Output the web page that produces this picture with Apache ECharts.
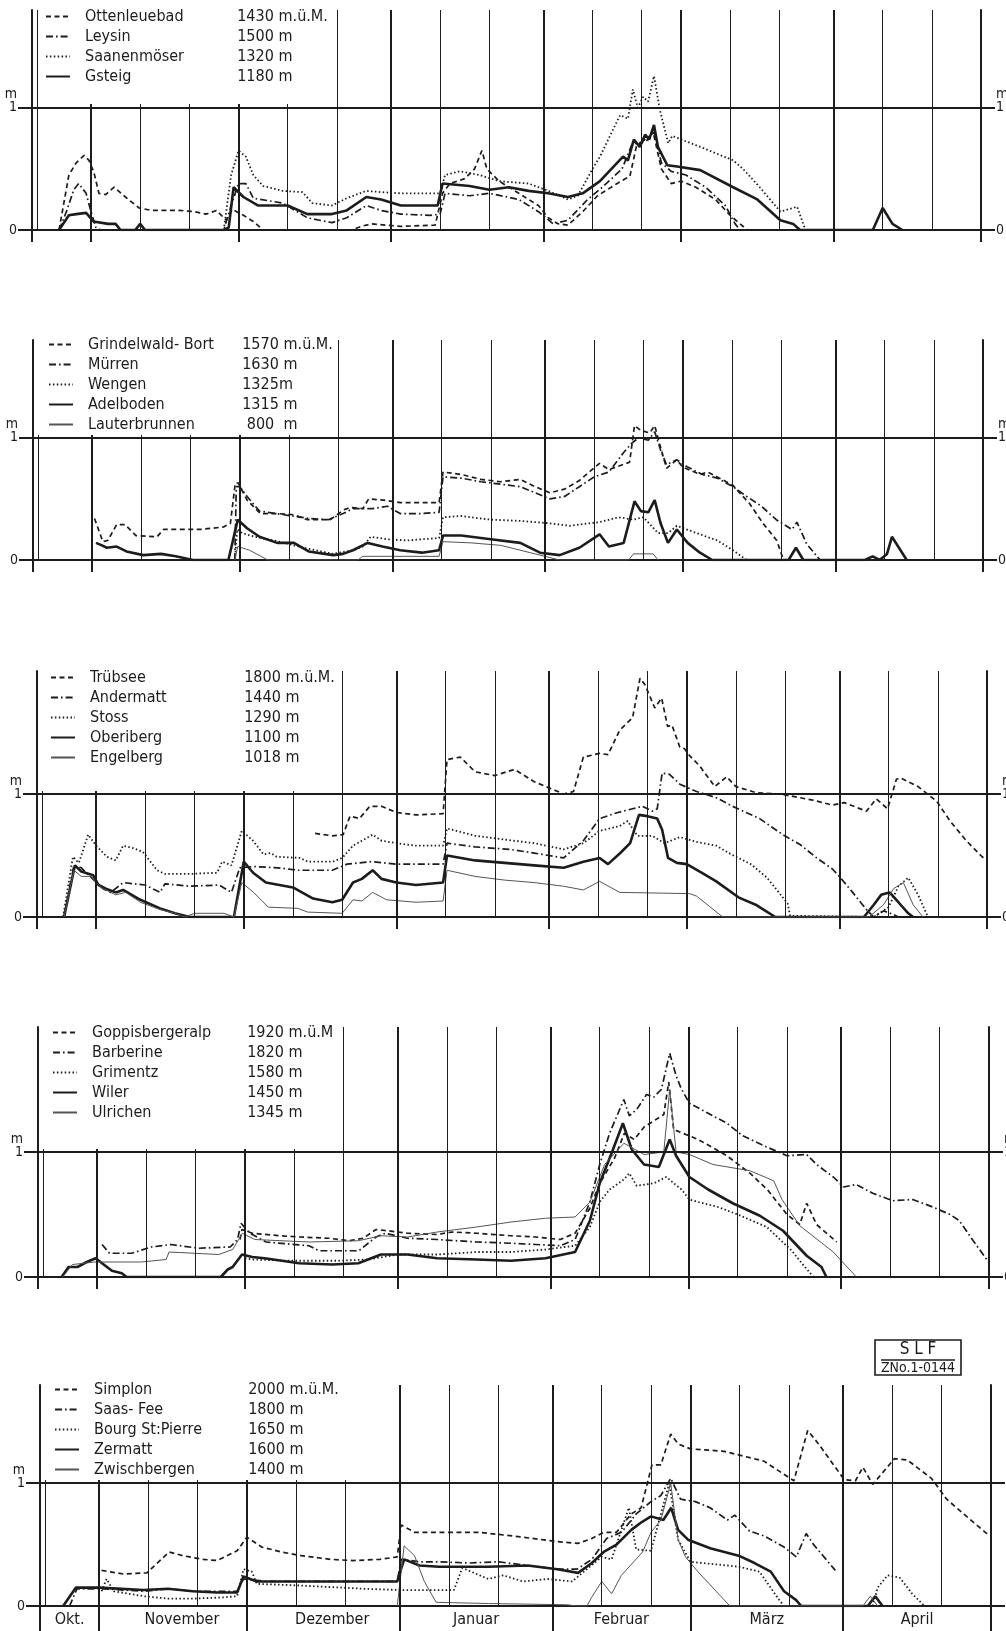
<!DOCTYPE html>
<html><head><meta charset="utf-8">
<script src="https://cdn.jsdelivr.net/npm/echarts@6/dist/echarts.min.js"></script>
<style>html,body{margin:0;padding:0;background:#fff}#c{width:1006px;height:1631px}</style>
</head><body><div id="c"></div>
<script>
// ---------- axis data (x = days since 1 October) ----------
const xMin = 19, xMax = 212;
const monthStarts = [31, 61, 92, 123, 151, 182];
const decadeLines = [20, 41, 51, 71, 81, 102, 112, 133, 143, 161, 171, 192, 202];
const monthNames = ['Okt.', 'November', 'Dezember', 'Januar', 'Februar', 'März', 'April'];

// ---------- Panel 1 ----------
const ottenleuebad = [[24.5,0],[26.5,0.45],[28,0.55],[29.6,0.61],[30.6,0.57],[31.6,0.47],[32.6,0.3],[34,0.29],[35.7,0.35],[38,0.27],[40.8,0.18],[43.4,0.16],[49,0.16],[52,0.15],[54.4,0.13],[56.5,0.16],[58.5,0.08],[59.7,0.17],[62,0.12],[64,0.07],[66,0],[84,0],[86,0.03],[88,0.05],[94,0.03],[101,0.04],[102.5,0.3],[104,0.38],[107,0.42],[109,0.5],[110.5,0.65],[111.5,0.5],[114,0.4],[118,0.3],[122,0.2],[124,0.1],[126,0.05],[128,0.04],[131,0.15],[134,0.28],[138,0.38],[140.6,0.44],[142,0.7],[143.5,0.72],[145.5,0.77],[147,0.5],[149,0.38],[151,0.4],[154,0.35],[158,0.25],[161,0.12],[163,0.05],[164.5,0]];
const leysin = [[24.5,0],[26,0.15],[27.5,0.33],[28.5,0.38],[30,0.3],[31,0.15],[32,0.02],[33,0],[58,0],[59.5,0.2],[61,0.38],[62.5,0.38],[64,0.26],[70,0.22],[75,0.1],[80,0.06],[83,0.1],[87,0.2],[90,0.16],[94,0.13],[100,0.12],[102,0.13],[103,0.3],[108,0.28],[112,0.3],[118,0.25],[122,0.15],[125,0.05],[128,0.08],[132,0.25],[135,0.35],[139,0.5],[141,0.7],[143,0.72],[145.5,0.8],[147,0.55],[149,0.48],[152,0.45],[156,0.35],[160,0.2],[162,0.05],[163,0]];
const saanenmoeser = [[58,0],[59.5,0.45],[61,0.65],[62.5,0.6],[64,0.45],[66,0.36],[70,0.32],[74,0.31],[76,0.22],[80,0.2],[83,0.26],[87,0.32],[90,0.31],[94,0.3],[100,0.3],[102,0.3],[103,0.45],[106,0.48],[110,0.45],[114,0.4],[120,0.38],[124,0.32],[128,0.25],[130,0.28],[133,0.5],[134.5,0.6],[138.6,0.94],[140.2,0.91],[141.2,1.15],[142.2,1.0],[143.3,1.09],[144.3,1.05],[145.5,1.26],[146.7,0.98],[148.4,0.71],[149.2,0.77],[154.9,0.68],[161.6,0.57],[163.6,0.5],[167,0.35],[171.2,0.15],[174.6,0.19],[176.3,0]];
const gsteig = [[24.5,0],[26.5,0.12],[28,0.13],[30,0.14],[31.5,0.07],[34.5,0.05],[36,0.05],[37,0],[40,0],[41,0.05],[42,0],[58,0],[59,0.02],[60,0.35],[62,0.27],[65,0.2],[71,0.2],[75,0.13],[80,0.13],[83,0.16],[87,0.27],[90,0.25],[94,0.2],[101.5,0.2],[102.5,0.38],[108,0.36],[112,0.33],[116,0.35],[120,0.32],[124,0.3],[128,0.27],[131,0.3],[134.5,0.4],[139.2,0.6],[140.2,0.57],[141.4,0.74],[142.6,0.68],[143.7,0.78],[144.5,0.74],[145.5,0.86],[146.3,0.68],[148.2,0.53],[150.2,0.52],[154.9,0.49],[161.6,0.35],[166.5,0.25],[171.2,0.08],[173.8,0.05],[175.2,0],[190,0],[192,0.18],[194,0.05],[196,0]];

// ---------- Panel 2 ----------
const grindelwald = [[31.5,0.34],[33.2,0.15],[34.2,0.16],[36,0.29],[37.7,0.29],[39.9,0.2],[44.2,0.19],[45.5,0.25],[53,0.25],[57.7,0.27],[59.1,0.3],[60.1,0.63],[60.7,0.63],[62.5,0.49],[65.2,0.38],[68.6,0.38],[72,0.37],[74.7,0.33],[79.4,0.33],[82.1,0.41],[83.5,0.43],[86,0.42],[87.2,0.5],[90.2,0.49],[93.6,0.47],[98,0.47],[101.5,0.47],[102.3,0.72],[106,0.7],[110,0.66],[114,0.64],[118,0.66],[121,0.6],[124,0.55],[127,0.58],[130,0.65],[132,0.72],[134.1,0.79],[136,0.74],[140.2,0.8],[141.2,1.1],[142.5,1.06],[144.3,1.04],[145.3,1.1],[146.3,0.95],[147.7,0.75],[149.8,0.82],[151,0.76],[154.5,0.7],[156,0.72],[158,0.68],[161.2,0.61],[164.6,0.46],[167.3,0.3],[170.1,0.16],[171.3,0.02],[172,0]];
const muerren = [[60,0],[60.3,0.6],[61,0.6],[62.5,0.52],[65,0.4],[70,0.37],[75,0.34],[79,0.33],[82,0.38],[84,0.42],[88,0.42],[91,0.44],[93.6,0.38],[98,0.38],[101.5,0.39],[102.3,0.68],[106,0.67],[110,0.64],[114,0.62],[118,0.6],[121,0.55],[124,0.5],[127,0.52],[130,0.6],[133,0.68],[136,0.72],[139,0.88],[140.5,0.95],[142,1.0],[144,0.98],[145.3,1.05],[146.5,0.9],[147.7,0.78],[149.8,0.82],[152,0.76],[155,0.7],[158,0.67],[161.2,0.6],[164,0.52],[167,0.44],[170,0.33],[173.2,0.25],[174.2,0.31],[176.2,0.13],[178.9,0]];
const wengen = [[60,0],[60.5,0.25],[61.5,0.22],[64,0.19],[68,0.16],[74,0.1],[80,0.05],[84,0.08],[86,0.11],[87.6,0.19],[91,0.17],[95,0.16],[101.5,0.18],[102.3,0.35],[106,0.36],[112,0.33],[118,0.32],[124,0.3],[128,0.28],[132,0.3],[134.1,0.31],[138,0.35],[141,0.33],[143,0.35],[146,0.22],[148,0.22],[149.8,0.28],[154.5,0.21],[158,0.16],[161.2,0.08],[164,0]];
const adelboden = [[31.8,0.14],[33,0.12],[34,0.1],[36,0.11],[38,0.07],[41.4,0.04],[45,0.05],[48,0.03],[51.5,0],[58.7,0],[60.6,0.33],[62.5,0.26],[65,0.19],[68.6,0.14],[72,0.14],[75,0.07],[80,0.04],[82,0.05],[84,0.08],[87,0.14],[90,0.11],[93.6,0.08],[98,0.06],[101.5,0.08],[102.3,0.2],[106,0.2],[112,0.17],[118,0.14],[122,0.06],[126,0.04],[130,0.1],[134.1,0.21],[136,0.11],[139,0.14],[141.2,0.48],[142.5,0.4],[144,0.39],[145.3,0.49],[146.5,0.3],[148,0.14],[149.8,0.25],[152,0.14],[154.5,0.06],[157,0],[172.5,0],[174,0.1],[175.5,0],[188,0],[189.6,0.03],[191,0],[192.5,0.05],[193.5,0.19],[196.5,0]];
const lauterbrunnen = [[60,0],[60.6,0.11],[63,0.08],[66.7,0],[85,0],[86,0.03],[101.5,0.03],[102.3,0.15],[108,0.14],[114,0.12],[120,0.06],[124,0.02],[126,0],[140,0],[141,0.05],[145,0.05],[146,0]];

// ---------- Panel 3 ----------
const truebsee = [[75.5,0.68],[79,0.66],[81.2,0.67],[82.6,0.82],[84.5,0.8],[86.6,0.9],[89,0.9],[92,0.85],[96,0.83],[101.5,0.84],[102.3,1.28],[105,1.3],[108,1.18],[112,1.15],[116,1.2],[120,1.1],[123,1.05],[126,1.0],[128,1.02],[130,1.3],[133.3,1.33],[135,1.32],[137.4,1.52],[140,1.62],[141.5,1.94],[142.5,1.89],[144.5,1.7],[145.9,1.78],[147.1,1.55],[148,1.56],[149.6,1.38],[150.5,1.37],[151.6,1.31],[153.6,1.23],[156.7,1.06],[159.1,1.14],[161,1.06],[165.2,1.01],[170,1.0],[176.6,0.95],[180.6,0.91],[183,0.93],[187.5,0.86],[189.5,0.96],[191.8,0.88],[193.6,1.12],[194.5,1.13],[198,1.06],[201.8,0.94],[204.5,0.78],[207.8,0.62],[211,0.49],[212,0.46]];
const andermatt = [[24.5,0],[26.5,0.42],[28,0.4],[29.5,0.34],[32.4,0.23],[34,0.2],[36.5,0.28],[41,0.26],[44,0.2],[45,0.27],[50,0.25],[56,0.26],[58.5,0.2],[60.2,0.4],[63,0.41],[68,0.4],[72,0.38],[79,0.38],[82,0.43],[87,0.45],[92,0.43],[101.5,0.43],[102.3,0.6],[108,0.57],[115,0.55],[120,0.52],[126,0.48],[130,0.62],[133.3,0.8],[137,0.85],[140,0.88],[142,0.9],[144,0.86],[145,0.88],[146,1.17],[147.5,1.16],[149.6,1.08],[153,1.02],[157,0.97],[160.3,0.9],[165.8,0.8],[170.5,0.67],[174,0.59],[177.4,0.48],[180.6,0.39],[182,0.33],[184.7,0.2],[187.5,0.06],[189,0],[191,0.05],[193,0.02],[194,0]];
const stoss = [[24.3,0],[26.3,0.49],[27.5,0.44],[29.4,0.67],[31,0.58],[33.2,0.49],[35,0.46],[36.5,0.58],[38.5,0.56],[40.5,0.53],[43.4,0.38],[45,0.35],[50,0.35],[55.6,0.36],[56.6,0.45],[58.5,0.42],[60.6,0.7],[62.9,0.62],[65,0.51],[66.5,0.52],[67.7,0.49],[72.4,0.48],[74,0.45],[79.1,0.45],[81,0.48],[83.2,0.58],[85,0.62],[87.2,0.67],[89,0.62],[92,0.6],[96,0.58],[101.5,0.58],[102.3,0.72],[108,0.66],[114,0.63],[120,0.6],[126,0.55],[130,0.6],[133.3,0.7],[137.4,0.74],[139,0.78],[141,0.66],[144,0.66],[146.5,0.6],[149.6,0.65],[153,0.61],[157,0.58],[160,0.51],[164,0.43],[167.3,0.32],[169.9,0.19],[171.5,0.11],[172,0.01],[189,0],[192,0.08],[194,0.25],[196,0.32],[198,0.18],[200,0]];
const oberiberg = [[24.5,0],[26.7,0.42],[28,0.37],[30.4,0.34],[31.5,0.26],[33,0.23],[35,0.2],[36.5,0.22],[40,0.14],[44,0.07],[47,0.03],[50,0],[59,0],[61,0.45],[62.9,0.36],[65.5,0.28],[71,0.24],[75.1,0.15],[79,0.12],[81,0.14],[83.2,0.28],[85,0.31],[87.2,0.38],[89,0.31],[92,0.28],[96,0.26],[101.5,0.28],[102.3,0.5],[108,0.46],[114,0.44],[120,0.42],[126,0.4],[130,0.45],[133.3,0.48],[135,0.43],[137.5,0.52],[139.5,0.6],[141.3,0.83],[143,0.82],[145,0.8],[146,0.71],[147.2,0.48],[149,0.44],[151,0.43],[154,0.36],[157,0.29],[161.5,0.16],[165,0.1],[167,0.05],[169,0],[187,0],[189,0.1],[190.5,0.18],[192.2,0.2],[194,0.12],[196,0.03],[197,0]];
const engelberg = [[24.5,0],[26.5,0.38],[28,0.33],[30,0.33],[32,0.24],[35,0.18],[37,0.2],[40,0.12],[44,0.06],[47,0.03],[49,0],[51,0.03],[57,0.03],[59,0],[60.6,0.28],[63,0.2],[66,0.08],[72,0.07],[74,0.04],[81,0.03],[83.2,0.14],[85,0.13],[87.2,0.2],[90,0.14],[96,0.12],[101.5,0.13],[102.3,0.38],[108,0.33],[114,0.3],[120,0.28],[126,0.25],[130,0.22],[133.3,0.29],[137.4,0.2],[151.6,0.19],[153,0.17],[158.3,0],[188,0],[191,0.1],[193,0.23],[195,0.28],[197,0.1],[199,0]];

// ---------- Panel 4 ----------
const goppisbergeralp = [[60,0.3],[60.4,0.38],[62.5,0.35],[68,0.33],[72,0.32],[78,0.31],[82.2,0.29],[85,0.31],[87.6,0.38],[90,0.37],[94,0.35],[100,0.34],[103,0.36],[108,0.35],[115,0.33],[120,0.32],[125,0.3],[128,0.35],[131,0.55],[133,0.75],[136,0.95],[138,1.15],[140,1.1],[142,1.2],[144,1.25],[146,1.3],[147,1.56],[148,1.18],[153,1.1],[158.8,0.97],[163.5,0.83],[167,0.7],[171,0.5],[173.6,0.42],[175,0.59],[177,0.42],[181.1,0.28]];
const barberine = [[32,0.26],[33.5,0.19],[38,0.19],[42,0.24],[46,0.26],[51.6,0.23],[58,0.24],[59.5,0.3],[60.2,0.43],[62,0.35],[65.3,0.28],[74,0.25],[76,0.21],[84.1,0.21],[87.6,0.32],[89.5,0.35],[94,0.31],[100,0.3],[108,0.28],[115,0.27],[120,0.26],[125,0.25],[128,0.3],[131,0.6],[133,0.9],[135,1.15],[137.9,1.42],[139,1.29],[140.5,1.34],[142.5,1.46],[144,1.44],[145.5,1.5],[147.2,1.79],[148.5,1.61],[149.5,1.51],[151.2,1.39],[155,1.31],[158.8,1.23],[162,1.13],[166.9,1.04],[171,0.97],[175,0.98],[177,0.9],[180.4,0.8],[182.5,0.72],[185,0.74],[188.4,0.67],[192.5,0.61],[196.5,0.62],[200.6,0.56],[204.1,0.5],[206,0.45],[208.8,0.29],[211.9,0.12]];
const grimentz = [[61,0.15],[62.5,0.14],[70,0.13],[80,0.13],[86,0.14],[92,0.18],[100,0.18],[108,0.2],[115,0.2],[122,0.22],[128,0.25],[131,0.4],[133,0.6],[135,0.7],[137.9,0.78],[139,0.83],[140.5,0.73],[144,0.75],[146.5,0.8],[149.6,0.7],[151.2,0.62],[153,0.6],[157,0.56],[161,0.5],[166.9,0.4],[172,0.21],[174,0.11],[176.4,0]];
const wiler = [[23.8,0],[25.2,0.08],[27,0.08],[28.9,0.12],[30.7,0.15],[32,0.11],[34,0.05],[36,0.03],[37,0],[56.1,0],[57.5,0.06],[58.5,0.08],[60.4,0.18],[62.5,0.16],[65,0.15],[72,0.11],[78.7,0.1],[84,0.11],[88.6,0.18],[94,0.18],[100,0.15],[108,0.14],[115,0.13],[122,0.15],[128,0.2],[131,0.45],[133,0.75],[135.5,1.0],[137.7,1.23],[139.5,1.02],[142,0.9],[145,0.88],[147.2,1.1],[148.5,0.97],[151.2,0.8],[155,0.7],[160,0.59],[165.5,0.49],[170.2,0.37],[175,0.17],[178,0.08],[179,0]];
const ulrichen = [[24,0],[26,0.1],[30.5,0.12],[40,0.12],[45,0.14],[45.6,0.2],[55.7,0.18],[58.5,0.22],[60.5,0.35],[63,0.3],[74,0.28],[84,0.29],[88.6,0.33],[94,0.32],[100,0.36],[108,0.4],[115,0.44],[122,0.47],[128,0.48],[131,0.6],[134,0.9],[137.9,1.07],[142,0.98],[146,1.0],[147.2,1.5],[148.5,1.0],[151.2,0.98],[156,0.9],[163.5,0.85],[168.3,0.77],[170,0.62],[173.6,0.41],[180.4,0.2],[185.1,0]];

// ---------- Panel 5 ----------
const simplon = [[31.5,0.29],[36,0.26],[40.7,0.27],[45.2,0.44],[48,0.41],[52,0.38],[55,0.37],[59,0.45],[61,0.56],[64,0.48],[68,0.44],[72,0.41],[78,0.38],[82.5,0.37],[88,0.38],[91.5,0.4],[92.3,0.66],[95,0.6],[100,0.6],[108,0.6],[115.1,0.57],[121,0.54],[125,0.52],[128.2,0.51],[131,0.55],[133.4,0.6],[136,0.6],[139,0.75],[141,0.8],[143.2,1.15],[145,1.15],[147,1.4],[148.5,1.32],[151,1.28],[157.8,1.26],[165.9,1.18],[172,1.02],[174.8,1.43],[177,1.32],[182.2,1.03],[184.5,1.02],[186,1.13],[188,0.99],[192.4,1.2],[195,1.19],[199.9,1.04],[203,0.87],[207.6,0.71],[211.7,0.57]];
const saasfee = [[25,0],[26.5,0.14],[32,0.14],[40,0.12],[45,0.14],[50,0.12],[55,0.12],[59,0.12],[60.3,0.22],[65,0.2],[80,0.2],[91.5,0.2],[92.3,0.38],[96,0.36],[100,0.36],[106,0.35],[112,0.36],[118,0.33],[124,0.3],[128,0.3],[131,0.38],[134,0.55],[137,0.6],[140,0.75],[143,0.85],[145,0.9],[147,1.04],[149,0.87],[152,0.85],[155,0.8],[158.5,0.7],[160,0.74],[163,0.61],[166,0.57],[170,0.48],[172.5,0.4],[174.5,0.59],[176,0.5],[180.4,0.29]];
const bourg = [[31.5,0.12],[32.5,0.22],[34,0.12],[40,0.08],[45,0.06],[50,0.06],[56,0.07],[59,0.08],[60.3,0.3],[62,0.28],[63,0.18],[70,0.17],[80,0.15],[85,0.14],[92,0.13],[100,0.13],[103,0.13],[104.7,0.31],[110,0.22],[113,0.25],[117,0.2],[122,0.22],[127,0.2],[130,0.3],[133,0.4],[135,0.38],[138.5,0.8],[140,0.46],[143,0.45],[146.7,1.0],[148.5,0.54],[151,0.36],[156,0.34],[160.8,0.32],[165,0.28],[169,0.05],[170,0],[188,0],[189,0.15],[191,0.25],[193.5,0.23],[196,0.1],[198.5,0]];
const zermatt = [[23.7,0],[26.3,0.15],[31,0.15],[40,0.13],[45,0.14],[50,0.12],[55,0.11],[59,0.11],[60.3,0.24],[63,0.2],[70,0.2],[80,0.2],[91.5,0.2],[92.9,0.38],[96,0.33],[100,0.32],[110,0.32],[118,0.33],[124,0.3],[128.2,0.27],[131,0.35],[133.4,0.44],[136,0.5],[139,0.62],[141,0.68],[143,0.73],[145.5,0.7],[147.1,0.8],[148.5,0.62],[150.5,0.54],[155,0.47],[160.8,0.41],[164,0.35],[167.3,0.28],[170,0.12],[172.4,0.05],[173.5,0],[187,0],[188.5,0.08],[190,0]];
const zwischbergen = [[91.5,0],[92.9,0.49],[95,0.41],[97,0.2],[99.4,0.03],[110,0.02],[126,0.01],[128,0],[130,0],[130.8,0.06],[133,0.2],[135,0.1],[137,0.25],[141.3,0.44],[143,0.6],[145,0.7],[147,1.0],[148.5,0.54],[150,0.4],[152.5,0.28],[159,0],[186,0],[187.5,0.08],[189,0]];

// ---------- stations (name, altitude, unit) ----------
const stations = [
  [['Ottenleuebad','1430',' m.ü.M.','dash',ottenleuebad],['Leysin','1500',' m','dashdot',leysin],['Saanenmöser','1320',' m','dot',saanenmoeser],['Gsteig','1180',' m','thick',gsteig]],
  [['Grindelwald- Bort','1570',' m.ü.M.','dash',grindelwald],['Mürren','1630',' m','dashdot',muerren],['Wengen','1325','m','dot',wengen],['Adelboden','1315',' m','thick',adelboden],['Lauterbrunnen','800',' m','thin',lauterbrunnen]],
  [['Trübsee','1800',' m.ü.M.','dash',truebsee],['Andermatt','1440',' m','dashdot',andermatt],['Stoss','1290',' m','dot',stoss],['Oberiberg','1100',' m','thick',oberiberg],['Engelberg','1018',' m','thin',engelberg]],
  [['Goppisbergeralp','1920',' m.ü.M','dash',goppisbergeralp],['Barberine','1820',' m','dashdot',barberine],['Grimentz','1580',' m','dot',grimentz],['Wiler','1450',' m','thick',wiler],['Ulrichen','1345',' m','thin',ulrichen]],
  [['Simplon','2000',' m.ü.M.','dash',simplon],['Saas- Fee','1800',' m','dashdot',saasfee],['Bourg St:Pierre','1650',' m','dot',bourg],['Zermatt','1600',' m','thick',zermatt],['Zwischbergen','1400',' m','thin',zwischbergen]]
];

// ---------- layout ----------
const FONT = '"DejaVu Sans Condensed","Liberation Sans Narrow","DejaVu Sans",sans-serif';
const INK = '#1c1c1c';
const layout = [
  {left:32, right:981, top:10,   zero:230,  ymax:1.8, legLeft:45, legTop:8,    altX:238, mask:[38,0,292,104]},
  {left:33, right:983, top:340,  zero:560,  ymax:1.8, legLeft:48, legTop:336,  altX:243, mask:[38,334,290,101]},
  {left:37, right:987, top:671,  zero:917,  ymax:2.0, legLeft:50, legTop:669,  altX:245, mask:[42,665,290,126]},
  {left:38, right:989, top:1027, zero:1277, ymax:2.0, legLeft:52, legTop:1024, altX:248, mask:[43,1020,290,129]},
  {left:40, right:991, top:1385, zero:1606, ymax:1.8, legLeft:54, legTop:1381, altX:249, mask:[45,1380,310,100]}
];
const labelNudge = [0, 1.8, 1.8, 0, 0, 0, 0];   // small rightward offsets of the month names (days)
const STY = {
  dash:   {type:[5,3.5], width:1.7, color:INK},
  dashdot:{type:[7,3,1.6,3], width:1.7, color:INK},
  dot:    {type:[1.5,2.4], width:1.8, color:INK},
  thick:  {type:'solid', width:2.6, color:INK},
  thin:   {type:'solid', width:1, color:'#555'}
};
const edges = [xMin, ...monthStarts, xMax];
const monthCenters = monthNames.map((_, i) => (edges[i] + edges[i+1]) / 2 + labelNudge[i]);

const grid = [], xAxis = [], yAxis = [], legend = [], series = [], graphic = [];
layout.forEach((p, i) => {
  grid.push({left:p.left, top:p.top, width:p.right - p.left, height:p.zero - p.top, containLabel:false, outerBoundsMode:'none'});
  xAxis.push({
    type:'value', gridIndex:i, min:xMin, max:xMax,
    axisLine:{show:true, onZero:false, lineStyle:{color:INK, width:2}},
    axisTick:{show:true, customValues:edges, length: i === 4 ? 26 : 12, lineStyle:{color:INK, width:2}},
    axisLabel: i === 4 ? {
      show:true, customValues:monthCenters, margin:6, color:INK, fontSize:16, fontFamily:FONT,
      formatter: v => { let k = 0, d = 1e9; monthCenters.forEach((c, j) => { if (Math.abs(c - v) < d) { d = Math.abs(c - v); k = j; } }); return monthNames[k]; }
    } : {show:false},
    splitLine:{show:false}
  });
  // label "m" over "1": the two-line label is centred half a line above the 1 m tick
  const mShift = 6.5 / ((p.zero - p.top) / p.ymax);
  const yl = {
    type:'value', gridIndex:i, min:0, max:p.ymax, interval:0.5,
    axisLine:{show:true, lineStyle:{color:INK, width:2}},
    axisTick:{show:true, customValues:[0, 1], length:14, lineStyle:{color:INK, width:2}},
    axisLabel:{show:true, customValues:[0, 1 + mShift], margin:15, color:INK, fontSize:14, lineHeight:13, fontFamily:FONT,
      formatter: v => v > 0.5 ? 'm\n1' : '0'}
  };
  yAxis.push(Object.assign({}, yl, {position:'left', splitLine:{show:true, showMaxLine:false, lineStyle:{color:INK, width:1}}}));
  yAxis.push(Object.assign({}, yl, {position:'right', splitLine:{show:false}}));

  const st = stations[i];
  const altMap = {};
  st.forEach(s => { altMap[s[0]] = s; });
  const nameW = p.altX - (p.legLeft + 24 + 5 + 10) - 2;
  legend.push({
    data: st.map(s => s[0]), orient:'vertical', left:p.legLeft, top:p.legTop, padding:0,
    itemWidth:24, itemHeight:12, itemGap:3, selectedMode:false, z:10,
    itemStyle:{opacity:0},
    formatter: name => `{n|${name}}{a|${altMap[name][1]}}{u|${altMap[name][2]}}`,
    textStyle:{color:INK, fontFamily:FONT, fontSize:16, lineHeight:17,
      rich:{n:{width:nameW, padding:[0,0,0,10], fontSize:16, lineHeight:17, fontFamily:FONT},
            a:{width:37, align:'right', fontSize:16, lineHeight:17, fontFamily:FONT},
            u:{fontSize:16, lineHeight:17, fontFamily:FONT}}}
  });
  st.forEach((s, j) => {
    const ser = {
      name:s[0], type:'line', xAxisIndex:i, yAxisIndex:2*i, data:s[4],
      symbol:'none', showSymbol:false, silent:true, animation:false,
      lineStyle:STY[s[3]], itemStyle:{color:STY[s[3]].color}, z:3
    };
    if (j === 0) {
      ser.markLine = {
        silent:true, symbol:'none', animation:false, label:{show:false},
        lineStyle:{color:INK, type:'solid', width:1},
        data: [
          ...monthStarts.map(d => ({xAxis:d, lineStyle:{color:INK, type:'solid', width:2}})),
          ...decadeLines.map(d => ({xAxis:d, lineStyle:{color:INK, type:'solid', width:1}})),
          {yAxis:1, lineStyle:{color:INK, type:'solid', width:2}}
        ]
      };
    }
    series.push(ser);
  });
  graphic.push({type:'rect', z:8, silent:true, shape:{x:p.mask[0], y:p.mask[1], width:p.mask[2], height:p.mask[3]}, style:{fill:'#fff'}});
});

// SLF stamp
graphic.push({type:'rect', z:8, shape:{x:875, y:1340, width:86, height:35}, style:{fill:'#fff', stroke:INK, lineWidth:1.6}});
graphic.push({type:'text', z:9, x:918, y:1350, style:{text:'S L F', font:'17px ' + FONT, fill:INK, align:'center', verticalAlign:'middle'}});
graphic.push({type:'line', z:9, shape:{x1:881, y1:1360, x2:955, y2:1360}, style:{stroke:INK, lineWidth:1.6}});
graphic.push({type:'text', z:9, x:918, y:1368, style:{text:'ZNo.1-0144', font:'14px ' + FONT, fill:INK, align:'center', verticalAlign:'middle'}});

const chart = echarts.init(document.getElementById('c'), null, {renderer:'canvas'});
chart.setOption({backgroundColor:'#fff', animation:false, grid, xAxis, yAxis, legend, series, graphic});
</script></body></html>
